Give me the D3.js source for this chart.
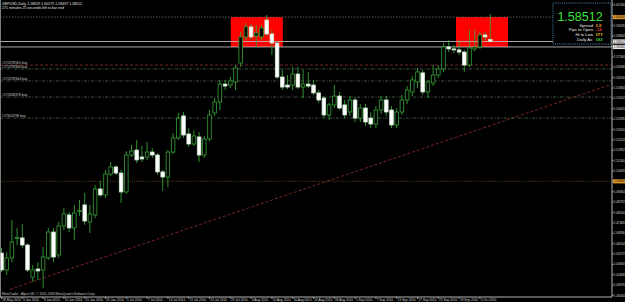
<!DOCTYPE html>
<html>
<head>
<meta charset="utf-8">
<title>GBPUSD,Daily</title>
<script src="https://cdnjs.cloudflare.com/ajax/libs/d3/7.8.5/d3.min.js"></script>
<style>
body{margin:0;background:#000;overflow:hidden}
svg{display:block;font-family:"Liberation Sans",Arial,sans-serif}
</style>
</head>
<body>
<svg id="chart" width="625" height="302"></svg>
<script>

// daily bars, bar 0 = 28 May 2010
var opens  = [1.4563,1.4460,1.4533,1.4652,1.4655,1.4612,1.4417,1.4466,1.4460,1.4533,
              1.4691,1.4551,1.4728,1.4795,1.4716,1.4816,1.4856,1.4752,1.4795,1.4953,
              1.4917,1.5044,1.5087,1.5050,1.4935,1.5160,1.5190,1.5148,1.5148,1.5178,
              1.5160,1.5057,1.5026,1.5178,1.5264,1.5398,1.5288,1.5227,1.5270,1.5160,
              1.5258,1.5416,1.5483,1.5592,1.5586,1.5605,1.5720,1.5879,1.5940,1.5885,
              1.5879,1.5982,1.5897,1.5842,1.5635,1.5586,1.5586,1.5653,1.5574,1.5592,
              1.5586,1.5538,1.5507,1.5404,1.5465,1.5519,1.5465,1.5422,1.5495,1.5385,
              1.5446,1.5385,1.5349,1.5434,1.5495,1.5434,1.5343,1.5422,1.5495,1.5544,
              1.5605,1.5660,1.5544,1.5599,1.5647,1.5684,1.5818,1.5806,1.5800,1.5787,
              1.5708,1.5806,1.5818,1.5891,1.58629];
var highs  = [1.4594,1.4569,1.4764,1.4716,1.4740,1.4624,1.4490,1.4508,1.4600,1.4716,
              1.4716,1.4752,1.4837,1.4813,1.4856,1.4886,1.4929,1.4856,1.4978,1.5002,
              1.5069,1.5117,1.5099,1.5069,1.5184,1.5221,1.5251,1.5215,1.5239,1.5203,
              1.5172,1.5069,1.5190,1.5294,1.5416,1.5422,1.5324,1.5312,1.5300,1.5276,
              1.5434,1.5507,1.5617,1.5617,1.5635,1.5708,1.5909,1.5964,1.5958,1.5952,
              1.5952,1.6013,1.5921,1.5854,1.5678,1.5647,1.5696,1.5696,1.5678,1.5666,
              1.5617,1.5556,1.5519,1.5477,1.5586,1.5544,1.5495,1.5519,1.5513,1.5471,
              1.5471,1.5422,1.5458,1.5519,1.5519,1.5458,1.5446,1.5526,1.5580,1.5641,
              1.5690,1.5678,1.5617,1.5708,1.5708,1.5842,1.5860,1.5830,1.5860,1.5800,
              1.5921,1.5921,1.5909,1.5909,1.60175];
var lows   = [1.4448,1.4429,1.4508,1.4612,1.4594,1.4448,1.4387,1.4399,1.4350,1.4521,
              1.4508,1.4533,1.4703,1.4691,1.4642,1.4789,1.4734,1.4685,1.4776,1.4904,
              1.4898,1.5032,1.5038,1.4868,1.4923,1.5148,1.5111,1.5117,1.5130,1.5142,
              1.5038,1.4941,1.4965,1.5166,1.5251,1.5264,1.5209,1.5215,1.5117,1.5142,
              1.5245,1.5398,1.5434,1.5556,1.5568,1.5556,1.5696,1.5860,1.5860,1.5818,
              1.5860,1.5885,1.5769,1.5623,1.5556,1.5562,1.5556,1.5562,1.5507,1.5568,
              1.5526,1.5477,1.5385,1.5373,1.5446,1.5434,1.5385,1.5398,1.5361,1.5361,
              1.5337,1.5324,1.5324,1.5410,1.5398,1.5324,1.5324,1.5404,1.5471,1.5519,
              1.5568,1.5526,1.5507,1.5580,1.5629,1.5666,1.5787,1.5781,1.5769,1.5666,
              1.5696,1.5793,1.5806,1.5860,1.58497];
var closes = [1.4460,1.4533,1.4630,1.4658,1.4612,1.4460,1.4460,1.4454,1.4539,1.4691,
              1.4539,1.4728,1.4801,1.4716,1.4807,1.4822,1.4758,1.4801,1.4953,1.4917,
              1.5044,1.5087,1.5050,1.4935,1.5160,1.5184,1.5130,1.5136,1.5178,1.5160,
              1.5057,1.5026,1.5178,1.5264,1.5385,1.5282,1.5227,1.5276,1.5160,1.5258,
              1.5404,1.5483,1.5592,1.5580,1.5611,1.5690,1.5879,1.5940,1.5879,1.5903,
              1.5934,1.5897,1.5842,1.5635,1.5574,1.5574,1.5653,1.5574,1.5592,1.5580,
              1.5538,1.5495,1.5404,1.5465,1.5519,1.5446,1.5404,1.5495,1.5385,1.5446,
              1.5361,1.5349,1.5434,1.5495,1.5422,1.5343,1.5422,1.5495,1.5556,1.5617,
              1.5666,1.5544,1.5605,1.5647,1.5684,1.5818,1.5806,1.5800,1.5787,1.5708,
              1.5812,1.5818,1.5891,1.5879,1.58512];

// one label every 4 bars
var dateLabels = ["28 May 2010","3 Jun 2010","9 Jun 2010","15 Jun 2010","21 Jun 2010","25 Jun 2010",
                  "1 Jul 2010","7 Jul 2010","13 Jul 2010","19 Jul 2010","23 Jul 2010","29 Jul 2010",
                  "4 Aug 2010","10 Aug 2010","16 Aug 2010","20 Aug 2010","26 Aug 2010","1 Sep 2010",
                  "7 Sep 2010","13 Sep 2010","17 Sep 2010","23 Sep 2010","29 Sep 2010","5 Oct 2010"];

var priceTicks = [1.60740,1.60108,1.59476,1.58844,1.58212,1.57580,1.56948,1.56316,1.55684,1.55052,
                  1.54420,1.53788,1.53156,1.52524,1.51892,1.51260,1.50628,1.49996,1.49364,1.48732,
                  1.48100,1.47468,1.46836,1.46204,1.45572,1.44940,1.44308,1.43676,1.43044];

// horizontal lines with marked labels on the price scale
var levelPrices = [1.60000, 1.58512, 1.58180, 1.50000];
var levelColors = ["#e09a2a", "#e8e8e8", "#e8e8e8", "#e09a2a"];

// open order lines
var orderPrices = [1.5708, 1.5684, 1.5611, 1.5513, 1.5385];
var orderLabels = ["#172378161 buy","#172378346 buy","#172378344 buy","#172308378 buy","#17654798 buy"];

// rectangles (bar index from/to, price top/bottom)
var boxFrom = [44.1, 87.4];
var boxTo = [54.1, 97.4];
var boxTop = [1.6000, 1.6000];
var boxBottom = [1.5818, 1.5818];

// trend line: two anchor points (bar index, price)
var trendBars = [1.6, 94];
var trendPrices = [1.4342, 1.5339];

var infoLabels = ["Spread", "Pips to Open", "Hi to Low", "Daily Av."];
var infoValues = ["2.8", "-12", "177", "182"];
var infoColors = ["#e8a030", "#ff3b2f", "#ffd21f", "#35d035"];

var W = 625, H = 302, plotRight = 612, plotBottom = 297;

var x = d3.scaleLinear().domain([0, 94]).range([1.5, 490.3]);
var y = d3.scaleLinear().domain([1.6104, 1.42953]).range([0, plotBottom]);

var bars = opens.map(function(o, i) {
  return {i: i, o: o, h: highs[i], l: lows[i], c: closes[i]};
});

var svg = d3.select("#chart");
svg.append("rect").attr("width", W).attr("height", H).attr("fill", "#000");

var plot = svg.append("g");

// rectangles sit behind everything
plot.selectAll("rect.box").data(boxFrom).enter().append("rect")
  .attr("class", "box")
  .attr("x", function(d) { return x(d); })
  .attr("width", function(d, i) { return x(boxTo[i]) - x(d); })
  .attr("y", function(d, i) { return y(boxTop[i]); })
  .attr("height", function(d, i) { return y(boxBottom[i]) - y(boxTop[i]); })
  .attr("fill", "#ff0000");

// trend line, extended to the right edge
var slope = (y(trendPrices[1]) - y(trendPrices[0])) / (x(trendBars[1]) - x(trendBars[0]));
plot.append("line")
  .attr("x1", x(trendBars[0])).attr("y1", y(trendPrices[0]))
  .attr("x2", plotRight).attr("y2", y(trendPrices[0]) + slope * (plotRight - x(trendBars[0])))
  .attr("stroke", "#9a2e2e").attr("stroke-width", 0.8).attr("stroke-dasharray", "3,2");

// order lines
plot.selectAll("line.order").data(orderPrices).enter().append("line")
  .attr("class", "order")
  .attr("x1", 0).attr("x2", plotRight)
  .attr("y1", function(d) { return y(d); }).attr("y2", function(d) { return y(d); })
  .attr("stroke", function(d, i) { return i == 0 ? "#8c2f2f" : "#4f6a4f"; })
  .attr("stroke-width", 0.8)
  .attr("stroke-dasharray", function(d, i) { return i == 0 ? "3,2" : "3,1.5,1,1.5"; });

plot.selectAll("text.order").data(orderLabels).enter().append("text")
  .attr("class", "order")
  .attr("x", 2).attr("y", function(d, i) { return y(orderPrices[i]) - 0.8; })
  .attr("font-size", 3.4).attr("fill", "#c8c8c8")
  .text(function(d) { return d; });

// level lines
plot.append("line").attr("x1", 0).attr("x2", plotRight)
  .attr("y1", y(levelPrices[0])).attr("y2", y(levelPrices[0]))
  .attr("stroke", "#707070").attr("stroke-width", 0.8).attr("stroke-dasharray", "1.5,1.5");
plot.append("line").attr("x1", 0).attr("x2", plotRight)
  .attr("y1", y(levelPrices[3])).attr("y2", y(levelPrices[3]))
  .attr("stroke", "#7a4a22").attr("stroke-width", 0.8).attr("stroke-dasharray", "1,1.2");
[1, 2].forEach(function(k) {
  plot.append("line").attr("x1", 0).attr("x2", plotRight)
    .attr("y1", y(levelPrices[k])).attr("y2", y(levelPrices[k]))
    .attr("stroke", "#b8b8b8").attr("stroke-width", 0.9);
});

// candles
var candleGreen = "#34a034";
var candle = plot.selectAll("g.candle").data(bars).enter().append("g").attr("class", "candle");

candle.append("line")
  .attr("x1", function(d) { return x(d.i); }).attr("x2", function(d) { return x(d.i); })
  .attr("y1", function(d) { return y(d.h); }).attr("y2", function(d) { return y(d.l); })
  .attr("stroke", candleGreen).attr("stroke-width", 0.9);

candle.append("rect")
  .attr("x", function(d) { return x(d.i) - 1.8; })
  .attr("width", 3.6)
  .attr("y", function(d) { return y(Math.max(d.o, d.c)); })
  .attr("height", function(d) { return Math.max(0.9, Math.abs(y(d.o) - y(d.c))); })
  .attr("fill", function(d) { return d.c >= d.o ? "#000" : "#fff"; })
  .attr("stroke", function(d) { return d.c >= d.o ? candleGreen : "#cfe8cf"; })
  .attr("stroke-width", 0.8);

// frame
svg.append("line").attr("x1", 0.5).attr("x2", 0.5).attr("y1", 0).attr("y2", plotBottom)
  .attr("stroke", "#9a9a9a").attr("stroke-width", 0.8);
svg.append("line").attr("x1", 0).attr("x2", plotRight).attr("y1", plotBottom).attr("y2", plotBottom)
  .attr("stroke", "#c8c8c8").attr("stroke-width", 0.9);
svg.append("line").attr("x1", plotRight).attr("x2", plotRight).attr("y1", 0).attr("y2", plotBottom)
  .attr("stroke", "#c8c8c8").attr("stroke-width", 0.9);

// price scale; plain labels hidden where a marked label sits
var shownTicks = priceTicks.filter(function(p) {
  return levelPrices.every(function(l) { return Math.abs(y(p) - y(l)) > 4.4; });
});
var pAxis = svg.append("g");
pAxis.selectAll("line").data(priceTicks).enter().append("line")
  .attr("x1", plotRight).attr("x2", plotRight + 1.6)
  .attr("y1", function(d) { return y(d); }).attr("y2", function(d) { return y(d); })
  .attr("stroke", "#c8c8c8").attr("stroke-width", 0.7);
pAxis.selectAll("text").data(shownTicks).enter().append("text")
  .attr("x", plotRight + 1.8).attr("y", function(d) { return y(d) + 1.1; })
  .attr("font-size", 3.0).attr("fill", "#d8d8d8")
  .text(function(d) { return d.toFixed(5); });

var marks = svg.append("g");
marks.selectAll("rect").data(levelPrices).enter().append("rect")
  .attr("x", plotRight + 1).attr("width", W - plotRight - 1)
  .attr("y", function(d) { return y(d) - 2.1; }).attr("height", 4.2)
  .attr("fill", function(d, i) { return levelColors[i]; });
marks.selectAll("text").data(levelPrices).enter().append("text")
  .attr("x", plotRight + 1.8).attr("y", function(d) { return y(d) + 1.1; })
  .attr("font-size", 3.0).attr("fill", "#000")
  .text(function(d) { return d.toFixed(5); });

// time scale
var tAxis = svg.append("g");
tAxis.selectAll("line").data(dateLabels).enter().append("line")
  .attr("x1", function(d, i) { return x(i * 4); }).attr("x2", function(d, i) { return x(i * 4); })
  .attr("y1", plotBottom).attr("y2", plotBottom + 2)
  .attr("stroke", "#c8c8c8").attr("stroke-width", 0.7);
tAxis.selectAll("text").data(dateLabels).enter().append("text")
  .attr("x", function(d, i) { return x(i * 4) + 0.8; }).attr("y", 300.8)
  .attr("font-size", 3.2).attr("fill", "#d8d8d8")
  .text(function(d) { return d; });

// chart header
svg.append("text").attr("x", 2).attr("y", 4.6).attr("font-size", 3.6).attr("fill", "#e0e0e0")
  .text("GBPUSD,Daily  1.58629 1.60175 1.58497 1.58512");
svg.append("text").attr("x", 2).attr("y", 9).attr("font-size", 3.6).attr("fill", "#e0e0e0")
  .text("271 minutes 25 seconds left to bar end");
svg.append("text").attr("x", 2).attr("y", 294.5).attr("font-size", 3.2).attr("fill", "#c8c8c8")
  .text("MetaTrader - Alpari UK, \u00a9 2001-2009 MetaQuotes Software Corp.");

// info panel
var info = svg.append("g");
info.append("rect").attr("x", 553).attr("y", 3).attr("width", 58).attr("height", 41)
  .attr("fill", "#000").attr("stroke", "#4f86ad").attr("stroke-width", 0.9)
  .attr("stroke-dasharray", "1.2,1");
info.append("text").attr("x", 580).attr("y", 21).attr("text-anchor", "middle")
  .attr("font-size", 12.5).attr("fill", "#3ee23e")
  .text(closes[closes.length - 1].toFixed(5));
info.selectAll("text.lbl").data(infoLabels).enter().append("text").attr("class", "lbl")
  .attr("x", 593).attr("y", function(d, i) { return 26.5 + i * 4.8; })
  .attr("text-anchor", "end").attr("font-size", 4.2).attr("fill", "#e8e8e8")
  .text(function(d) { return d; });
info.selectAll("text.val").data(infoValues).enter().append("text").attr("class", "val")
  .attr("x", 595.5).attr("y", function(d, i) { return 26.5 + i * 4.8; })
  .attr("font-size", 4.2).attr("font-weight", "bold")
  .attr("fill", function(d, i) { return infoColors[i]; })
  .text(function(d) { return d; });

</script>
</body>
</html>
